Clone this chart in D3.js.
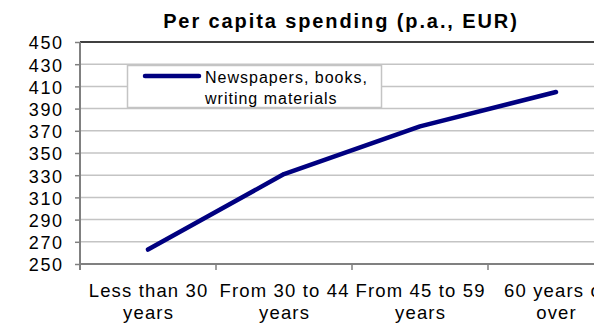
<!DOCTYPE html>
<html>
<head>
<meta charset="utf-8">
<script src="https://cdn.jsdelivr.net/npm/d3@7"></script>
<style>
  html, body { margin: 0; padding: 0; background: #fff; }
  svg { display: block; font-family: "Liberation Sans", Arial, sans-serif; }
</style>
</head>
<body>
<svg id="chart" width="594" height="327"></svg>
<script>
// Age groups (two-line labels) and per capita spending in EUR
const categories = ["Less than 30 years", "From 30 to 44 years", "From 45 to 59 years", "60 years or over"];
const categoryLines = [["Less than 30", "years"], ["From 30 to 44", "years"], ["From 45 to 59", "years"], ["60 years or", "over"]];
const spending = [263, 331, 374, 405];
const yTicks = [250, 270, 290, 310, 330, 350, 370, 390, 410, 430, 450];
const seriesName = ["Newspapers, books,", "writing materials"];
const title = "Per capita spending (p.a., EUR)";

const svg = d3.select("#chart");
const W = 594, H = 327;
const plot = { left: 80, right: 624, top: 42, bottom: 264 };

const x = d3.scaleBand().domain(categories).range([plot.left, plot.right]).padding(0);
const y = d3.scaleLinear().domain([250, 450]).range([plot.bottom, plot.top]);

// Horizontal gridlines
svg.append("g").selectAll("line")
  .data(yTicks.filter(t => t !== 250 && t !== 450))
  .join("line")
  .attr("x1", plot.left).attr("x2", W)
  .attr("y1", d => y(d)).attr("y2", d => y(d))
  .attr("stroke", "#c4c4c4").attr("stroke-width", 1.5);

// Top border of the plot area
svg.append("line")
  .attr("x1", plot.left).attr("x2", W)
  .attr("y1", y(450)).attr("y2", y(450))
  .attr("stroke", "#000").attr("stroke-width", 1.5);

// Y axis
const yLs = 1.6;
const yAxis = d3.axisLeft(y).tickValues(yTicks).tickSize(5).tickPadding(11.4);
const gy = svg.append("g").attr("transform", `translate(${plot.left},0)`).call(yAxis);
gy.select(".domain").attr("stroke", "#808080").attr("stroke-width", 2)
  .attr("d", `M0,${plot.top}V${plot.bottom + 6}`);
gy.selectAll(".tick line").attr("stroke", "#808080").attr("stroke-width", 1.5);
gy.selectAll(".tick text")
  .attr("font-size", 18).attr("fill", "#000")
  .attr("dy", "0.38em")
  .attr("letter-spacing", yLs)
  .attr("font-family", "Liberation Sans, Arial, sans-serif");

// X axis with ticks at category boundaries
svg.append("line")
  .attr("x1", plot.left).attr("x2", W)
  .attr("y1", plot.bottom).attr("y2", plot.bottom)
  .attr("stroke", "#808080").attr("stroke-width", 2);
svg.append("g").selectAll("line")
  .data(categories.slice(1))
  .join("line")
  .attr("x1", d => x(d)).attr("x2", d => x(d))
  .attr("y1", plot.bottom).attr("y2", plot.bottom + 6)
  .attr("stroke", "#808080").attr("stroke-width", 1.5);

// Category labels
const xLs = 1.15;
const xl = svg.append("g").selectAll("text")
  .data(categories)
  .join("text")
  .attr("x", d => x(d) + x.bandwidth() / 2 + xLs / 2)
  .attr("y", 297)
  .attr("text-anchor", "middle")
  .attr("font-size", 18.5)
  .attr("letter-spacing", xLs)
  .attr("fill", "#000");
xl.each(function(d, i) {
  const t = d3.select(this);
  categoryLines[i].forEach((ln, j) => {
    t.append("tspan")
      .attr("x", x(d) + x.bandwidth() / 2 + xLs / 2)
      .attr("dy", j === 0 ? 0 : 22)
      .text(ln);
  });
});

// Data line
const line = d3.line()
  .x((d, i) => x(categories[i]) + x.bandwidth() / 2)
  .y(d => y(d));
svg.append("path")
  .datum(spending)
  .attr("d", line)
  .attr("fill", "none")
  .attr("stroke", "#000080")
  .attr("stroke-width", 4.5)
  .attr("stroke-linejoin", "round")
  .attr("stroke-linecap", "round");

// Legend
const lg = svg.append("g");
lg.append("rect")
  .attr("x", 127.5).attr("y", 65.5).attr("width", 254).attr("height", 42)
  .attr("fill", "#fff").attr("stroke", "#c4c4c4").attr("stroke-width", 1.5);
lg.append("line")
  .attr("x1", 145).attr("x2", 199).attr("y1", 76).attr("y2", 76)
  .attr("stroke", "#000080").attr("stroke-width", 4.5).attr("stroke-linecap", "round");
lg.append("text")
  .attr("x", 205).attr("y", 83)
  .attr("font-size", 16).attr("letter-spacing", 1).attr("fill", "#000")
  .selectAll("tspan").data(seriesName).join("tspan")
  .attr("x", 205).attr("dy", (d, i) => i === 0 ? 0 : 21)
  .text(d => d);

// Title
const tLs = 1.9;
svg.append("text")
  .attr("x", 340 + tLs / 2).attr("y", 28)
  .attr("text-anchor", "middle")
  .attr("font-size", 20).attr("font-weight", "bold")
  .attr("letter-spacing", tLs).attr("fill", "#000")
  .text(title);
</script>
</body>
</html>
